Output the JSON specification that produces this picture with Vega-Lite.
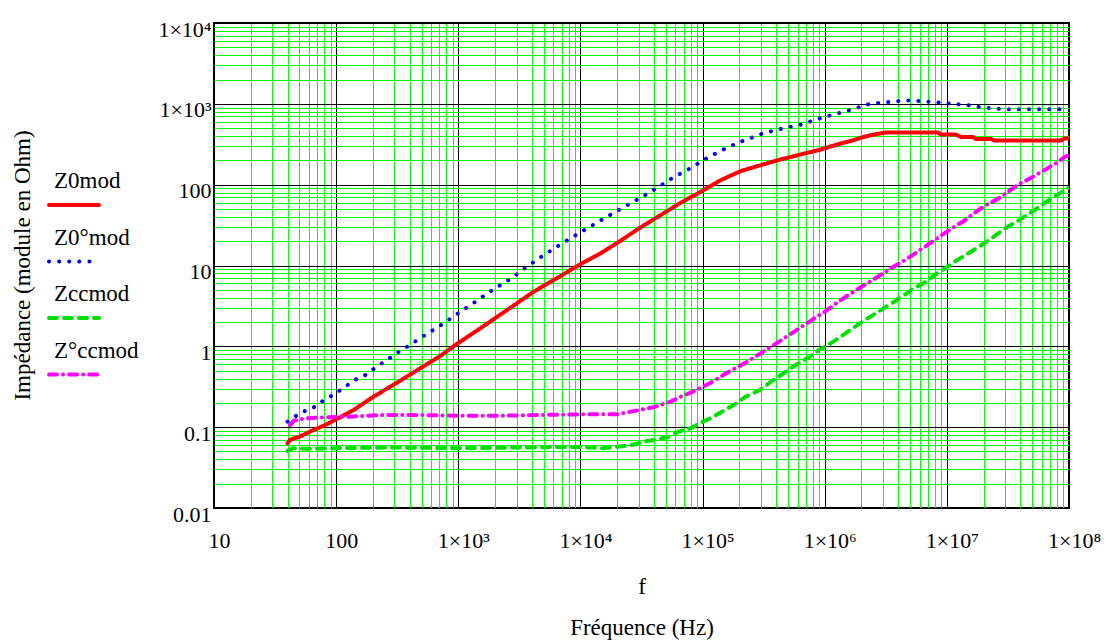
{
  "$schema": "https://vega.github.io/schema/vega-lite/v6.json",
  "width": 855,
  "height": 485,
  "autosize": {"type": "none"},
  "padding": {"left": 214, "top": 23, "right": 38, "bottom": 135},
  "background": "white",
  "config": {
    "view": {"stroke": "black", "strokeWidth": 2}
  },
  "data": {
    "values": [
      {"s": "Z0mod", "f": 40, "Z": 0.063},
      {"s": "Z0mod", "f": 42, "Z": 0.070},
      {"s": "Z0mod", "f": 50, "Z": 0.076},
      {"s": "Z0mod", "f": 65, "Z": 0.092},
      {"s": "Z0mod", "f": 80, "Z": 0.105},
      {"s": "Z0mod", "f": 95, "Z": 0.120},
      {"s": "Z0mod", "f": 139, "Z": 0.163},
      {"s": "Z0mod", "f": 202, "Z": 0.238},
      {"s": "Z0mod", "f": 315, "Z": 0.355},
      {"s": "Z0mod", "f": 489, "Z": 0.535},
      {"s": "Z0mod", "f": 712, "Z": 0.759},
      {"s": "Z0mod", "f": 975, "Z": 1.07},
      {"s": "Z0mod", "f": 1514, "Z": 1.67},
      {"s": "Z0mod", "f": 2506, "Z": 2.81},
      {"s": "Z0mod", "f": 4140, "Z": 4.73},
      {"s": "Z0mod", "f": 6850, "Z": 7.39},
      {"s": "Z0mod", "f": 10000, "Z": 10.4},
      {"s": "Z0mod", "f": 14590, "Z": 14.1},
      {"s": "Z0mod", "f": 21280, "Z": 20.2},
      {"s": "Z0mod", "f": 31040, "Z": 29.6},
      {"s": "Z0mod", "f": 45300, "Z": 42.0},
      {"s": "Z0mod", "f": 66070, "Z": 59.6},
      {"s": "Z0mod", "f": 96380, "Z": 81.5},
      {"s": "Z0mod", "f": 140600, "Z": 113.6},
      {"s": "Z0mod", "f": 204900, "Z": 146.9},
      {"s": "Z0mod", "f": 298800, "Z": 174},
      {"s": "Z0mod", "f": 435800, "Z": 205},
      {"s": "Z0mod", "f": 635400, "Z": 236},
      {"s": "Z0mod", "f": 926800, "Z": 272},
      {"s": "Z0mod", "f": 1352000, "Z": 323},
      {"s": "Z0mod", "f": 1634000, "Z": 347},
      {"s": "Z0mod", "f": 2099000, "Z": 390},
      {"s": "Z0mod", "f": 2535000, "Z": 417},
      {"s": "Z0mod", "f": 3160000, "Z": 442},
      {"s": "Z0mod", "f": 8390000, "Z": 442},
      {"s": "Z0mod", "f": 8930000, "Z": 417},
      {"s": "Z0mod", "f": 11860000, "Z": 417},
      {"s": "Z0mod", "f": 13030000, "Z": 390},
      {"s": "Z0mod", "f": 16250000, "Z": 390},
      {"s": "Z0mod", "f": 17290000, "Z": 368},
      {"s": "Z0mod", "f": 22960000, "Z": 368},
      {"s": "Z0mod", "f": 24440000, "Z": 352},
      {"s": "Z0mod", "f": 85900000, "Z": 352},
      {"s": "Z0mod", "f": 91400000, "Z": 372},
      {"s": "Z0mod", "f": 100000000, "Z": 372},

      {"s": "Z0°mod", "f": 40, "Z": 0.117},
      {"s": "Z0°mod", "f": 42, "Z": 0.123},
      {"s": "Z0°mod", "f": 50.7, "Z": 0.149},
      {"s": "Z0°mod", "f": 59.3, "Z": 0.166},
      {"s": "Z0°mod", "f": 67.3, "Z": 0.179},
      {"s": "Z0°mod", "f": 77.8, "Z": 0.211},
      {"s": "Z0°mod", "f": 96.3, "Z": 0.255},
      {"s": "Z0°mod", "f": 117, "Z": 0.311},
      {"s": "Z0°mod", "f": 140.5, "Z": 0.380},
      {"s": "Z0°mod", "f": 170, "Z": 0.433},
      {"s": "Z0°mod", "f": 220, "Z": 0.576},
      {"s": "Z0°mod", "f": 263, "Z": 0.677},
      {"s": "Z0°mod", "f": 306, "Z": 0.81},
      {"s": "Z0°mod", "f": 368, "Z": 0.953},
      {"s": "Z0°mod", "f": 494, "Z": 1.28},
      {"s": "Z0°mod", "f": 690, "Z": 1.75},
      {"s": "Z0°mod", "f": 958, "Z": 2.46},
      {"s": "Z0°mod", "f": 1334, "Z": 3.43},
      {"s": "Z0°mod", "f": 1853, "Z": 4.83},
      {"s": "Z0°mod", "f": 2604, "Z": 6.66},
      {"s": "Z0°mod", "f": 3607, "Z": 9.55},
      {"s": "Z0°mod", "f": 5036, "Z": 13.5},
      {"s": "Z0°mod", "f": 7295, "Z": 19.3},
      {"s": "Z0°mod", "f": 10520, "Z": 26.9},
      {"s": "Z0°mod", "f": 14790, "Z": 36.4},
      {"s": "Z0°mod", "f": 21280, "Z": 50.2},
      {"s": "Z0°mod", "f": 29720, "Z": 66.2},
      {"s": "Z0°mod", "f": 43030, "Z": 92.3},
      {"s": "Z0°mod", "f": 57540, "Z": 122.7},
      {"s": "Z0°mod", "f": 80170, "Z": 161},
      {"s": "Z0°mod", "f": 112700, "Z": 221},
      {"s": "Z0°mod", "f": 159300, "Z": 288},
      {"s": "Z0°mod", "f": 218100, "Z": 352},
      {"s": "Z0°mod", "f": 310500, "Z": 430},
      {"s": "Z0°mod", "f": 449900, "Z": 495},
      {"s": "Z0°mod", "f": 644000, "Z": 555},
      {"s": "Z0°mod", "f": 957000, "Z": 677},
      {"s": "Z0°mod", "f": 1327000, "Z": 773},
      {"s": "Z0°mod", "f": 1707000, "Z": 857},
      {"s": "Z0°mod", "f": 2380000, "Z": 1009},
      {"s": "Z0°mod", "f": 3750000, "Z": 1067},
      {"s": "Z0°mod", "f": 4610000, "Z": 1108},
      {"s": "Z0°mod", "f": 6950000, "Z": 1067},
      {"s": "Z0°mod", "f": 10520000, "Z": 1009},
      {"s": "Z0°mod", "f": 15730000, "Z": 953},
      {"s": "Z0°mod", "f": 19630000, "Z": 899},
      {"s": "Z0°mod", "f": 29500000, "Z": 857},
      {"s": "Z0°mod", "f": 100000000, "Z": 857},

      {"s": "Zccmod", "f": 40, "Z": 0.051},
      {"s": "Zccmod", "f": 45, "Z": 0.055},
      {"s": "Zccmod", "f": 60, "Z": 0.054},
      {"s": "Zccmod", "f": 100, "Z": 0.055},
      {"s": "Zccmod", "f": 300, "Z": 0.056},
      {"s": "Zccmod", "f": 1000, "Z": 0.055},
      {"s": "Zccmod", "f": 3000, "Z": 0.056},
      {"s": "Zccmod", "f": 7000, "Z": 0.057},
      {"s": "Zccmod", "f": 10000, "Z": 0.057},
      {"s": "Zccmod", "f": 15000, "Z": 0.055},
      {"s": "Zccmod", "f": 25000, "Z": 0.059},
      {"s": "Zccmod", "f": 35400, "Z": 0.0675},
      {"s": "Zccmod", "f": 40000, "Z": 0.0695},
      {"s": "Zccmod", "f": 51600, "Z": 0.075},
      {"s": "Zccmod", "f": 63400, "Z": 0.088},
      {"s": "Zccmod", "f": 79800, "Z": 0.097},
      {"s": "Zccmod", "f": 99600, "Z": 0.116},
      {"s": "Zccmod", "f": 120300, "Z": 0.132},
      {"s": "Zccmod", "f": 145100, "Z": 0.156},
      {"s": "Zccmod", "f": 186200, "Z": 0.194},
      {"s": "Zccmod", "f": 224900, "Z": 0.238},
      {"s": "Zccmod", "f": 295000, "Z": 0.288},
      {"s": "Zccmod", "f": 372700, "Z": 0.376},
      {"s": "Zccmod", "f": 470000, "Z": 0.472},
      {"s": "Zccmod", "f": 578500, "Z": 0.588},
      {"s": "Zccmod", "f": 721000, "Z": 0.711},
      {"s": "Zccmod", "f": 897600, "Z": 0.900},
      {"s": "Zccmod", "f": 1119000, "Z": 1.09},
      {"s": "Zccmod", "f": 1352000, "Z": 1.31},
      {"s": "Zccmod", "f": 1687000, "Z": 1.67},
      {"s": "Zccmod", "f": 2099000, "Z": 2.07},
      {"s": "Zccmod", "f": 2618000, "Z": 2.56},
      {"s": "Zccmod", "f": 3365000, "Z": 3.24},
      {"s": "Zccmod", "f": 4200000, "Z": 4.04},
      {"s": "Zccmod", "f": 5230000, "Z": 5.07},
      {"s": "Zccmod", "f": 6520000, "Z": 6.11},
      {"s": "Zccmod", "f": 8130000, "Z": 7.83},
      {"s": "Zccmod", "f": 10140000, "Z": 9.64},
      {"s": "Zccmod", "f": 12390000, "Z": 11.9},
      {"s": "Zccmod", "f": 16000000, "Z": 15.0},
      {"s": "Zccmod", "f": 22000000, "Z": 20.5},
      {"s": "Zccmod", "f": 31400000, "Z": 30.1},
      {"s": "Zccmod", "f": 39200000, "Z": 36.4},
      {"s": "Zccmod", "f": 48900000, "Z": 45.3},
      {"s": "Zccmod", "f": 61600000, "Z": 57.4},
      {"s": "Zccmod", "f": 75800000, "Z": 70.7},
      {"s": "Zccmod", "f": 97500000, "Z": 89.8},
      {"s": "Zccmod", "f": 100000000, "Z": 92},

      {"s": "Z°ccmod", "f": 42, "Z": 0.106},
      {"s": "Z°ccmod", "f": 45, "Z": 0.120},
      {"s": "Z°ccmod", "f": 50, "Z": 0.125},
      {"s": "Z°ccmod", "f": 60, "Z": 0.129},
      {"s": "Z°ccmod", "f": 75, "Z": 0.132},
      {"s": "Z°ccmod", "f": 130, "Z": 0.135},
      {"s": "Z°ccmod", "f": 250, "Z": 0.1416},
      {"s": "Z°ccmod", "f": 500, "Z": 0.1416},
      {"s": "Z°ccmod", "f": 1000, "Z": 0.138},
      {"s": "Z°ccmod", "f": 2000, "Z": 0.138},
      {"s": "Z°ccmod", "f": 5000, "Z": 0.1416},
      {"s": "Z°ccmod", "f": 10000, "Z": 0.144},
      {"s": "Z°ccmod", "f": 20000, "Z": 0.144},
      {"s": "Z°ccmod", "f": 27200, "Z": 0.158},
      {"s": "Z°ccmod", "f": 39600, "Z": 0.176},
      {"s": "Z°ccmod", "f": 54700, "Z": 0.207},
      {"s": "Z°ccmod", "f": 66100, "Z": 0.238},
      {"s": "Z°ccmod", "f": 79800, "Z": 0.267},
      {"s": "Z°ccmod", "f": 99500, "Z": 0.313},
      {"s": "Z°ccmod", "f": 116400, "Z": 0.355},
      {"s": "Z°ccmod", "f": 159200, "Z": 0.472},
      {"s": "Z°ccmod", "f": 224900, "Z": 0.627},
      {"s": "Z°ccmod", "f": 308000, "Z": 0.843},
      {"s": "Z°ccmod", "f": 409000, "Z": 1.107},
      {"s": "Z°ccmod", "f": 559800, "Z": 1.51},
      {"s": "Z°ccmod", "f": 767000, "Z": 2.07},
      {"s": "Z°ccmod", "f": 1018000, "Z": 2.73},
      {"s": "Z°ccmod", "f": 1352000, "Z": 3.73},
      {"s": "Z°ccmod", "f": 1853000, "Z": 5.07},
      {"s": "Z°ccmod", "f": 2535000, "Z": 6.79},
      {"s": "Z°ccmod", "f": 3475000, "Z": 9.2},
      {"s": "Z°ccmod", "f": 4763000, "Z": 12.2},
      {"s": "Z°ccmod", "f": 6324000, "Z": 16.3},
      {"s": "Z°ccmod", "f": 8650000, "Z": 22.6},
      {"s": "Z°ccmod", "f": 11860000, "Z": 31},
      {"s": "Z°ccmod", "f": 13870000, "Z": 35.7},
      {"s": "Z°ccmod", "f": 15920000, "Z": 42},
      {"s": "Z°ccmod", "f": 18620000, "Z": 49.8},
      {"s": "Z°ccmod", "f": 21560000, "Z": 57.4},
      {"s": "Z°ccmod", "f": 26040000, "Z": 66.2},
      {"s": "Z°ccmod", "f": 29880000, "Z": 76.4},
      {"s": "Z°ccmod", "f": 34560000, "Z": 89.8},
      {"s": "Z°ccmod", "f": 40460000, "Z": 105},
      {"s": "Z°ccmod", "f": 48870000, "Z": 121},
      {"s": "Z°ccmod", "f": 56000000, "Z": 137},
      {"s": "Z°ccmod", "f": 67600000, "Z": 161},
      {"s": "Z°ccmod", "f": 79800000, "Z": 188},
      {"s": "Z°ccmod", "f": 91000000, "Z": 217},
      {"s": "Z°ccmod", "f": 100000000, "Z": 232}
    ]
  },
  "mark": {"type": "line", "strokeCap": "round", "strokeJoin": "round", "strokeWidth": 4, "clip": true},
  "encoding": {
    "x": {
      "field": "f",
      "type": "quantitative",
      "scale": {"type": "log", "domain": [10, 100000000], "nice": false},
      "axis": {
        "values": [10,20,30,40,50,60,70,80,90,100,200,300,400,500,600,700,800,900,1000,2000,3000,4000,5000,6000,7000,8000,9000,10000,20000,30000,40000,50000,60000,70000,80000,90000,100000,200000,300000,400000,500000,600000,700000,800000,900000,1000000,2000000,3000000,4000000,5000000,6000000,7000000,8000000,9000000,10000000,20000000,30000000,40000000,50000000,60000000,70000000,80000000,90000000,100000000],
        "labelExpr": "abs(log(datum.value)/LN10 - round(log(datum.value)/LN10)) > 0.001 ? '' : (datum.value >= 1000 ? '1×10' + ['⁰','¹','²','³','⁴','⁵','⁶','⁷','⁸','⁹'][round(log(datum.value)/LN10)] : format(datum.value, '~g'))",
        "grid": true,
        "gridColor": {"condition": {"test": "abs(log(datum.value)/LN10 - round(log(datum.value)/LN10)) < 0.001", "value": "#000000"}, "value": "#00ff00"},
        "gridWidth": 1,
        "gridOpacity": 1,
        "ticks": false,
        "domain": false,
        "labelFont": "Liberation Serif",
        "labelFontSize": 22,
        "labelColor": "black",
        "labelPadding": 22,
        "labelOffset": 5,
        "labelOverlap": false,
        "labelFlush": false,
        "title": ["f", "Fréquence (Hz)"],
        "titleFont": "Liberation Serif",
        "titleFontSize": 23,
        "titleFontWeight": "normal",
        "titleColor": "black",
        "titleBaseline": "alphabetic",
        "titleLineHeight": 41,
        "titleY": 85
      }
    },
    "y": {
      "field": "Z",
      "type": "quantitative",
      "scale": {"type": "log", "domain": [0.01, 10000], "nice": false},
      "axis": {
        "values": [0.01,0.02,0.03,0.04,0.05,0.06,0.07,0.08,0.09,0.1,0.2,0.3,0.4,0.5,0.6,0.7,0.8,0.9,1,2,3,4,5,6,7,8,9,10,20,30,40,50,60,70,80,90,100,200,300,400,500,600,700,800,900,1000,2000,3000,4000,5000,6000,7000,8000,9000,10000],
        "labelExpr": "abs(log(datum.value)/LN10 - round(log(datum.value)/LN10)) > 0.001 ? '' : (datum.value >= 1000 ? '1×10' + ['⁰','¹','²','³','⁴','⁵','⁶','⁷','⁸','⁹'][round(log(datum.value)/LN10)] : format(datum.value, '~g'))",
        "grid": true,
        "gridColor": {"condition": {"test": "abs(log(datum.value)/LN10 - round(log(datum.value)/LN10)) < 0.001", "value": "#000000"}, "value": "#00ff00"},
        "gridWidth": 1,
        "gridOpacity": 1,
        "ticks": false,
        "domain": false,
        "labelFont": "Liberation Serif",
        "labelFontSize": 22,
        "labelColor": "black",
        "labelPadding": 3,
        "labelOffset": 6,
        "labelOverlap": false,
        "labelFlush": false,
        "title": "Impédance (module en Ohm)",
        "titleFont": "Liberation Serif",
        "titleFontSize": 23,
        "titleFontWeight": "normal",
        "titleColor": "black",
        "titleAngle": 270,
        "titleBaseline": "alphabetic",
        "titleX": -185,
        "titleY": 242
      }
    },
    "color": {
      "field": "s",
      "type": "nominal",
      "scale": {"domain": ["Z0mod", "Z0°mod", "Zccmod", "Z°ccmod"], "range": ["#ff0000", "#0000ff", "#00e000", "#ff00ff"]},
      "legend": {
        "orient": "none", "legendX": -167, "legendY": 155, "title": null,
        "symbolType": "stroke", "symbolSize": 2500, "symbolStrokeWidth": 4,
        "labelFont": "Liberation Serif", "labelFontSize": 23, "labelColor": "black",
        "labelOffset": -47, "rowPadding": 13.5, "padding": 0,
        "encode": {"labels": {"update": {"dy": {"value": -24}}}, "symbols": {"update": {"strokeCap": {"value": "round"}}}}
      }
    },
    "strokeDash": {
      "field": "s",
      "type": "nominal",
      "scale": {"domain": ["Z0mod", "Z0°mod", "Zccmod", "Z°ccmod"], "range": [[1, 0], [0.1, 10], [8, 7], [8, 6, 0.1, 6]]},
      "legend": {
        "orient": "none", "legendX": -167, "legendY": 155, "title": null,
        "symbolType": "stroke", "symbolSize": 2500, "symbolStrokeWidth": 4,
        "labelFont": "Liberation Serif", "labelFontSize": 23, "labelColor": "black",
        "labelOffset": -47, "rowPadding": 13.5, "padding": 0,
        "encode": {"labels": {"update": {"dy": {"value": -24}}}, "symbols": {"update": {"strokeCap": {"value": "round"}}}}
      }
    }
  }
}
